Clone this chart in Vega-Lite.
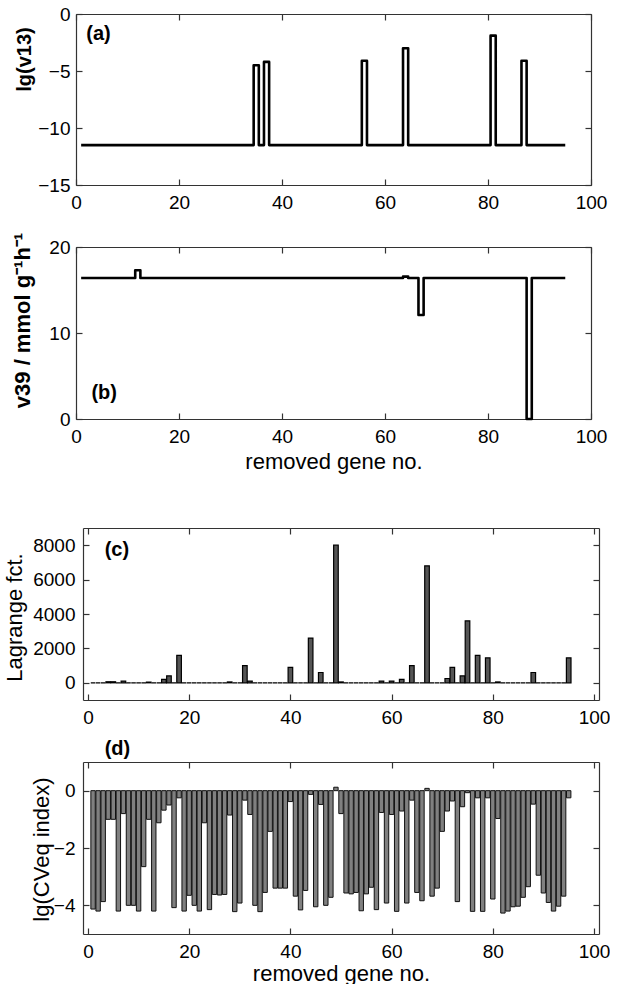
{
  "$schema": "https://vega.github.io/schema/vega-lite/v6.json",
  "background": "white",
  "padding": {"left": 2, "top": 5, "right": 0, "bottom": 0},
  "bounds": "flush",
  "spacing": 62,
  "datasets": {
    "genes": [
      {"gene":1,"a":-11.5,"b":16.4,"c":0,"d":-4.13},
      {"gene":2,"a":-11.5,"b":16.4,"c":0,"d":-4.2},
      {"gene":3,"a":-11.5,"b":16.4,"c":0,"d":-3.87},
      {"gene":4,"a":-11.5,"b":16.4,"c":60,"d":-1.0},
      {"gene":5,"a":-11.5,"b":16.4,"c":60,"d":-1.0},
      {"gene":6,"a":-11.5,"b":16.4,"c":0,"d":-4.2},
      {"gene":7,"a":-11.5,"b":16.4,"c":100,"d":-0.8},
      {"gene":8,"a":-11.5,"b":16.4,"c":0,"d":-4.0},
      {"gene":9,"a":-11.5,"b":16.4,"c":0,"d":-4.0},
      {"gene":10,"a":-11.5,"b":16.4,"c":0,"d":-4.2},
      {"gene":11,"a":-11.5,"b":16.4,"c":0,"d":-2.65},
      {"gene":12,"a":-11.5,"b":17.3,"c":40,"d":-1.0},
      {"gene":13,"a":-11.5,"b":16.4,"c":0,"d":-4.2},
      {"gene":14,"a":-11.5,"b":16.4,"c":0,"d":-1.12},
      {"gene":15,"a":-11.5,"b":16.4,"c":200,"d":-0.68},
      {"gene":16,"a":-11.5,"b":16.4,"c":400,"d":-0.5},
      {"gene":17,"a":-11.5,"b":16.4,"c":0,"d":-4.08},
      {"gene":18,"a":-11.5,"b":16.4,"c":1600,"d":-0.25},
      {"gene":19,"a":-11.5,"b":16.4,"c":0,"d":-4.2},
      {"gene":20,"a":-11.5,"b":16.4,"c":0,"d":-3.65},
      {"gene":21,"a":-11.5,"b":16.4,"c":0,"d":-4.0},
      {"gene":22,"a":-11.5,"b":16.4,"c":0,"d":-4.2},
      {"gene":23,"a":-11.5,"b":16.4,"c":0,"d":-1.12},
      {"gene":24,"a":-11.5,"b":16.4,"c":0,"d":-4.15},
      {"gene":25,"a":-11.5,"b":16.4,"c":0,"d":-3.62},
      {"gene":26,"a":-11.5,"b":16.4,"c":0,"d":-3.64},
      {"gene":27,"a":-11.5,"b":16.4,"c":0,"d":-3.62},
      {"gene":28,"a":-11.5,"b":16.4,"c":50,"d":-0.85},
      {"gene":29,"a":-11.5,"b":16.4,"c":0,"d":-4.22},
      {"gene":30,"a":-11.5,"b":16.4,"c":0,"d":-3.92},
      {"gene":31,"a":-11.5,"b":16.4,"c":1000,"d":-0.33},
      {"gene":32,"a":-11.5,"b":16.4,"c":100,"d":-0.83},
      {"gene":33,"a":-11.5,"b":16.4,"c":0,"d":-4.0},
      {"gene":34,"a":-11.5,"b":16.4,"c":0,"d":-4.22},
      {"gene":35,"a":-4.5,"b":16.4,"c":0,"d":-3.55},
      {"gene":36,"a":-11.5,"b":16.4,"c":0,"d":-1.42},
      {"gene":37,"a":-4.2,"b":16.4,"c":0,"d":-3.4},
      {"gene":38,"a":-11.5,"b":16.4,"c":0,"d":-3.4},
      {"gene":39,"a":-11.5,"b":16.4,"c":0,"d":-3.4},
      {"gene":40,"a":-11.5,"b":16.4,"c":900,"d":-0.38},
      {"gene":41,"a":-11.5,"b":16.4,"c":0,"d":-3.68},
      {"gene":42,"a":-11.5,"b":16.4,"c":0,"d":-4.16},
      {"gene":43,"a":-11.5,"b":16.4,"c":0,"d":-3.48},
      {"gene":44,"a":-11.5,"b":16.4,"c":2600,"d":-0.13},
      {"gene":45,"a":-11.5,"b":16.4,"c":0,"d":-4.05},
      {"gene":46,"a":-11.5,"b":16.4,"c":600,"d":-0.48},
      {"gene":47,"a":-11.5,"b":16.4,"c":0,"d":-4.0},
      {"gene":48,"a":-11.5,"b":16.4,"c":0,"d":-3.72},
      {"gene":49,"a":-11.5,"b":16.4,"c":8000,"d":0.12},
      {"gene":50,"a":-11.5,"b":16.4,"c":50,"d":-0.8},
      {"gene":51,"a":-11.5,"b":16.4,"c":0,"d":-3.57},
      {"gene":52,"a":-11.5,"b":16.4,"c":0,"d":-3.6},
      {"gene":53,"a":-11.5,"b":16.4,"c":0,"d":-3.55},
      {"gene":54,"a":-11.5,"b":16.4,"c":0,"d":-4.19},
      {"gene":55,"a":-11.5,"b":16.4,"c":0,"d":-3.6},
      {"gene":56,"a":-4.1,"b":16.4,"c":0,"d":-3.37},
      {"gene":57,"a":-11.5,"b":16.4,"c":0,"d":-4.15},
      {"gene":58,"a":-11.5,"b":16.4,"c":100,"d":-0.76},
      {"gene":59,"a":-11.5,"b":16.4,"c":0,"d":-3.92},
      {"gene":60,"a":-11.5,"b":16.4,"c":100,"d":-0.83},
      {"gene":61,"a":-11.5,"b":16.4,"c":0,"d":-4.21},
      {"gene":62,"a":-11.5,"b":16.4,"c":200,"d":-0.71},
      {"gene":63,"a":-11.5,"b":16.4,"c":0,"d":-3.92},
      {"gene":64,"a":-3.0,"b":16.55,"c":1000,"d":-0.33},
      {"gene":65,"a":-11.5,"b":16.4,"c":0,"d":-3.55},
      {"gene":66,"a":-11.5,"b":16.4,"c":0,"d":-3.84},
      {"gene":67,"a":-11.5,"b":12.1,"c":6800,"d":0.08},
      {"gene":68,"a":-11.5,"b":16.4,"c":0,"d":-3.68},
      {"gene":69,"a":-11.5,"b":16.4,"c":0,"d":-3.4},
      {"gene":70,"a":-11.5,"b":16.4,"c":0,"d":-1.42},
      {"gene":71,"a":-11.5,"b":16.4,"c":250,"d":-0.71},
      {"gene":72,"a":-11.5,"b":16.4,"c":900,"d":-0.36},
      {"gene":73,"a":-11.5,"b":16.4,"c":0,"d":-3.87},
      {"gene":74,"a":-11.5,"b":16.4,"c":400,"d":-0.56},
      {"gene":75,"a":-11.5,"b":16.4,"c":3600,"d":-0.07},
      {"gene":76,"a":-11.5,"b":16.4,"c":0,"d":-4.21},
      {"gene":77,"a":-11.5,"b":16.4,"c":1600,"d":-0.25},
      {"gene":78,"a":-11.5,"b":16.4,"c":0,"d":-4.21},
      {"gene":79,"a":-11.5,"b":16.4,"c":1450,"d":-0.25},
      {"gene":80,"a":-11.5,"b":16.4,"c":0,"d":-3.78},
      {"gene":81,"a":-1.9,"b":16.4,"c":50,"d":-0.97},
      {"gene":82,"a":-11.5,"b":16.4,"c":0,"d":-4.27},
      {"gene":83,"a":-11.5,"b":16.4,"c":0,"d":-4.2},
      {"gene":84,"a":-11.5,"b":16.4,"c":0,"d":-4.05},
      {"gene":85,"a":-11.5,"b":16.4,"c":0,"d":-4.03},
      {"gene":86,"a":-11.5,"b":16.4,"c":0,"d":-3.72},
      {"gene":87,"a":-4.1,"b":16.4,"c":0,"d":-3.35},
      {"gene":88,"a":-11.5,"b":0,"c":600,"d":-0.47},
      {"gene":89,"a":-11.5,"b":16.4,"c":0,"d":-2.95},
      {"gene":90,"a":-11.5,"b":16.4,"c":0,"d":-3.57},
      {"gene":91,"a":-11.5,"b":16.4,"c":0,"d":-3.9},
      {"gene":92,"a":-11.5,"b":16.4,"c":0,"d":-4.2},
      {"gene":93,"a":-11.5,"b":16.4,"c":0,"d":-4.03},
      {"gene":94,"a":-11.5,"b":16.4,"c":0,"d":-3.68},
      {"gene":95,"a":-11.5,"b":16.4,"c":1450,"d":-0.25}
    ]
  },
  "vconcat": [
    {
      "width": 515, "height": 171,
      "data": {"name": "genes"},
      "resolve": {"axis": {"x": "independent", "y": "independent"}},
      "layer": [
        {
          "mark": {"type": "line", "interpolate": "step", "color": "black", "strokeWidth": 2.6, "strokeJoin": "round"},
          "encoding": {
            "x": {"field": "gene", "type": "quantitative", "scale": {"domain": [0, 100], "nice": false, "zero": false},
                  "axis": {"values": [0, 20, 40, 60, 80, 100], "title": null, "labelPadding": 14}},
            "y": {"field": "a", "type": "quantitative", "scale": {"domain": [-15, 0], "nice": false, "zero": false},
                  "axis": {"values": [-15, -10, -5, 0], "title": "lg(v13)", "titleFontWeight": "bold", "titleFontSize": 20,
                           "labelPadding": 12, "titleX": -52, "titleY": 45, "titleBaseline": "middle", "titleAngle": -90}}
          }
        },
        {
          "mark": {"type": "point", "opacity": 0},
          "encoding": {
            "x": {"field": "gene", "type": "quantitative", "axis": {"orient": "top", "values": [0, 20, 40, 60, 80, 100], "labels": false, "title": null}},
            "y": {"field": "a", "type": "quantitative", "axis": {"orient": "right", "values": [-15, -10, -5, 0], "labels": false, "title": null}}
          }
        },
        {
          "data": {"values": [{}]},
          "mark": {"type": "text", "text": "(a)", "align": "left", "baseline": "middle", "fontWeight": "bold", "fontSize": 20},
          "encoding": {"x": {"datum": 2, "axis": null}, "y": {"datum": -1.75, "axis": null}}
        }
      ]
    },
    {
      "width": 515, "height": 172,
      "data": {"name": "genes"},
      "resolve": {"axis": {"x": "independent", "y": "independent"}},
      "layer": [
        {
          "mark": {"type": "line", "interpolate": "step", "color": "black", "strokeWidth": 2.6, "strokeJoin": "round"},
          "encoding": {
            "x": {"field": "gene", "type": "quantitative", "scale": {"domain": [0, 100], "nice": false, "zero": false},
                  "axis": {"values": [0, 20, 40, 60, 80, 100], "title": "removed gene no.", "labelPadding": 14,
                           "titleY": 42, "titleBaseline": "middle"}},
            "y": {"field": "b", "type": "quantitative", "scale": {"domain": [0, 20], "nice": false},
                  "axis": {"values": [0, 10, 20], "title": "v39 / mmol g⁻¹h⁻¹", "titleFontWeight": "bold", "titleFontSize": 22,
                           "labelPadding": 12, "titleX": -54, "titleY": 73, "titleBaseline": "middle", "titleAngle": -90}}
          }
        },
        {
          "mark": {"type": "point", "opacity": 0},
          "encoding": {
            "x": {"field": "gene", "type": "quantitative", "axis": {"orient": "top", "values": [0, 20, 40, 60, 80, 100], "labels": false, "title": null}},
            "y": {"field": "b", "type": "quantitative", "axis": {"orient": "right", "values": [0, 10, 20], "labels": false, "title": null}}
          }
        },
        {
          "data": {"values": [{}]},
          "mark": {"type": "text", "text": "(b)", "align": "left", "baseline": "middle", "fontWeight": "bold", "fontSize": 20},
          "encoding": {"x": {"datum": 3, "axis": null}, "y": {"datum": 3.0, "axis": null}}
        }
      ]
    },
    {
      "width": 523, "height": 219,
      "data": {"name": "genes"},
      "resolve": {"axis": {"x": "independent", "y": "independent"}},
      "layer": [
        {
          "mark": {"type": "bar", "size": 4.6, "fill": "#555555", "stroke": "black", "strokeWidth": 1.2},
          "encoding": {
            "x": {"field": "gene", "type": "quantitative", "scale": {"domain": [0, 100], "range": [7, 523], "nice": false, "zero": false},
                  "axis": {"values": [0, 20, 40, 60, 80, 100], "title": null, "labelPadding": 14}},
            "y": {"field": "c", "type": "quantitative", "scale": {"domain": [-1000, 9000], "range": [219, 47], "nice": false, "zero": false},
                  "axis": {"values": [0, 2000, 4000, 6000, 8000], "format": "d", "title": "Lagrange fct.", "offset": -7,
                           "labelPadding": 14, "titleX": -69, "titleY": 136, "titleBaseline": "middle", "titleAngle": -90}}
          }
        },
        {
          "mark": {"type": "point", "opacity": 0},
          "encoding": {
            "x": {"field": "gene", "type": "quantitative", "axis": {"orient": "top", "offset": -47, "values": [0, 20, 40, 60, 80, 100], "labels": false, "title": null}},
            "y": {"field": "c", "type": "quantitative", "axis": {"orient": "right", "values": [0, 2000, 4000, 6000, 8000], "labels": false, "title": null}}
          }
        },
        {
          "data": {"values": [{}]},
          "mark": {"type": "text", "text": "(c)", "align": "left", "baseline": "middle", "fontWeight": "bold", "fontSize": 20},
          "encoding": {"x": {"datum": 3.3, "axis": null}, "y": {"datum": 7700, "axis": null}}
        }
      ]
    },
    {
      "width": 523, "height": 172,
      "data": {"name": "genes"},
      "resolve": {"axis": {"x": "independent", "y": "independent"}},
      "layer": [
        {
          "mark": {"type": "bar", "size": 4.4, "fill": "#808080", "stroke": "#111111", "strokeWidth": 1},
          "encoding": {
            "x": {"field": "gene", "type": "quantitative", "scale": {"domain": [0, 100], "range": [7, 523], "nice": false, "zero": false},
                  "axis": {"values": [0, 20, 40, 60, 80, 100], "title": "removed gene no.", "labelPadding": 14,
                           "titleY": 39, "titleBaseline": "middle"}},
            "y": {"field": "d", "type": "quantitative", "scale": {"domain": [-5, 1], "nice": false},
                  "axis": {"values": [-4, -2, 0], "title": "lg(CVeq index)", "offset": -7,
                           "labelPadding": 14, "titleX": -42, "titleY": 87, "titleBaseline": "middle", "titleAngle": -90}}
          }
        },
        {
          "mark": {"type": "point", "opacity": 0},
          "encoding": {
            "x": {"field": "gene", "type": "quantitative", "axis": {"orient": "top", "values": [0, 20, 40, 60, 80, 100], "labels": false, "title": null}},
            "y": {"field": "d", "type": "quantitative", "axis": {"orient": "right", "values": [-4, -2, 0], "labels": false, "title": null}}
          }
        },
        {
          "data": {"values": [{}]},
          "mark": {"type": "text", "text": "(d)", "align": "left", "baseline": "middle", "fontWeight": "bold", "fontSize": 20},
          "encoding": {"x": {"datum": 3.3, "axis": null}, "y": {"datum": 1.47, "axis": null}}
        }
      ]
    }
  ],
  "config": {
    "font": "Liberation Sans",
    "view": {"stroke": null},
    "axis": {
      "grid": false,
      "domain": true, "domainColor": "#333333", "domainWidth": 1.2,
      "ticks": true, "tickColor": "#333333", "tickSize": -6, "tickWidth": 1.2,
      "labelFont": "Liberation Sans", "labelFontSize": 19, "labelColor": "#000000",
      "labelFlush": false, "labelOverlap": false,
      "titleFont": "Liberation Sans", "titleFontSize": 22, "titleColor": "#000000", "titleFontWeight": "normal"
    }
  }
}
